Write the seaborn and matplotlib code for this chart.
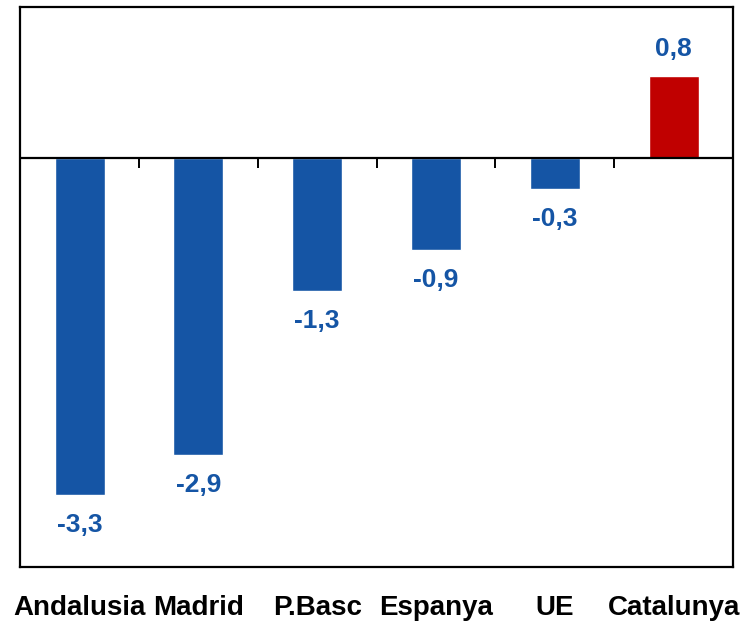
import matplotlib
matplotlib.use("Agg")
import matplotlib.pyplot as plt
import seaborn as sns
import pandas as pd

regions = ['Andalusia', 'Madrid', 'P.Basc', 'Espanya', 'UE', 'Catalunya']
values = [-3.3, -2.9, -1.3, -0.9, -0.3, 0.8]
bar_colors = ['#1555A5', '#1555A5', '#1555A5', '#1555A5', '#1555A5', '#C00000']

df = pd.DataFrame({'region': regions, 'value': values})

sns.set_theme(style="white")
plt.rcParams['font.family'] = ['Liberation Sans', 'DejaVu Sans']

fig = plt.figure(figsize=(7.48, 6.21), dpi=100)
ax = fig.add_axes([0.027, 0.087, 0.953, 0.902])

sns.barplot(data=df, x='region', y='value', hue='region', palette=bar_colors,
            width=0.42, legend=False, ax=ax, saturation=1)

ax.set_ylim(-4, 1.48)
ax.set_xlim(-0.5, len(regions) - 0.5)
ax.axhline(0, color='black', lw=1.6, zorder=1)
# little ticks between categories on the zero line
ax.vlines([i + 0.5 for i in range(len(regions) - 1)], -0.1, 0, color='black', lw=1.4)

for p, v in zip(ax.patches, values):
    cx = p.get_x() + p.get_width() / 2
    txt = f"{v:.1f}".replace('.', ',')
    if v >= 0:
        ax.annotate(txt, (cx, v), xytext=(0, 11), textcoords='offset points',
                    ha='center', va='bottom', fontsize=19, fontweight='bold', color='#1555A5')
    else:
        ax.annotate(txt, (cx, v), xytext=(0, -13), textcoords='offset points',
                    ha='center', va='top', fontsize=19, fontweight='bold', color='#1555A5')

ax.set_yticks([])
ax.set_xlabel('')
ax.set_ylabel('')
ax.tick_params(axis='x', length=0, pad=20, labelsize=20, labelcolor='black')
for lbl in ax.get_xticklabels():
    lbl.set_fontweight('bold')
for s in ax.spines.values():
    s.set_color('black')
    s.set_linewidth(1.6)

fig.savefig('out.png', dpi=100)
